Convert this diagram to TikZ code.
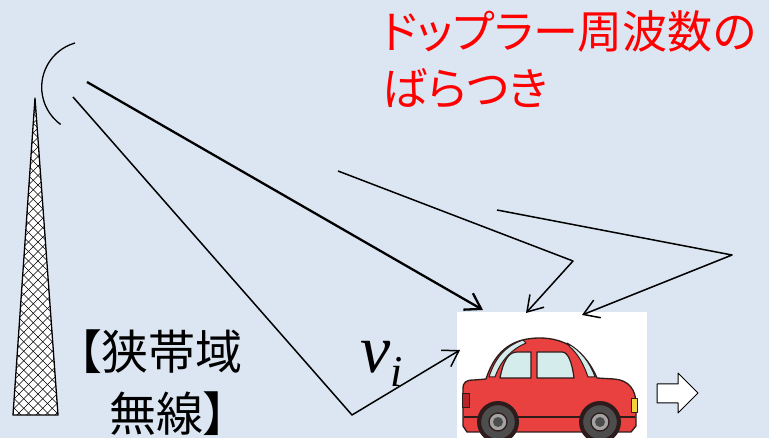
\documentclass[tikz,border=0pt]{standalone}
\usepackage{fontspec}
\newfontfamily\jafont[RawFeature=+palt]{Noto Sans CJK JP}
\newfontfamily\varfont{Liberation Serif}
\usetikzlibrary{arrows.meta}
\definecolor{bgblue}{HTML}{DCE6F2}
\definecolor{carred}{HTML}{E8413F}
\definecolor{carline}{HTML}{2E1B1B}
\definecolor{glass}{HTML}{D4ECEC}
\definecolor{tyre}{HTML}{4D4D4D}
\definecolor{hubgrey}{HTML}{A3A3A3}
\definecolor{tailred}{HTML}{B8242A}
\definecolor{lampyellow}{HTML}{F4D23C}

\begin{document}
\begin{tikzpicture}[x=1pt, y=-1pt, line join=round,
  ray/.style={line width=1.5pt},
  hit/.style={-{Straight Barb[length=15pt,width=19pt]}},
  outline/.style={draw=carline, line width=1.3pt}]
  \fill[bgblue] (0,0) rectangle (769,438);
  \useasboundingbox (0,0) rectangle (769,438);

  % mast with lattice
  \fill[white] (35,98) -- (58,415) -- (13,415) -- cycle;
  \begin{scope}
    \clip (35,98) -- (58,415) -- (13,415) -- cycle;
    \foreach \d in {-36,...,7}
      \draw[line width=0.55pt] (\d*9.5,90) -- ++(340,340);
    \foreach \d in {1,...,42}
      \draw[line width=0.55pt] (\d*9.5,90) -- ++(-340,340);
  \end{scope}
  \draw[line width=1.3pt] (35,98) -- (58,415) -- (13,415) -- cycle;
  \draw[line width=1.3pt] (75,43) arc[start angle=-106, end angle=-234, radius=46];

  % vehicle
  \node[fill=white, inner sep=0, minimum width=190pt, minimum height=126pt,
    anchor=north west] (car) at (457,312) {};
  \begin{scope}
    \clip (457,312) rectangle (647,438);
    \filldraw[fill=carred, outline]
      (467,432) -- (463,426) -- (463,389) .. controls (463,382) and (466,380) .. (474,380)
      -- (486,379) .. controls (496,348) and (515,338) .. (540,338)
      .. controls (566,338) and (586,352) .. (597,378)
      -- (614,379) .. controls (629,380) and (636,390) .. (636,404)
      -- (636,426) -- (631,432) -- cycle;
    \filldraw[fill=glass, outline, line width=1pt]
      (489,377) .. controls (496,355) and (508,345) .. (523,340)
      -- (526,343) .. controls (512,349) and (501,360) .. (495,377) -- cycle;
    \filldraw[fill=glass, outline, line width=1pt]
      (567,343) .. controls (580,350) and (590,362) .. (595,377)
      -- (588,377) .. controls (584,365) and (578,354) .. (570,347) -- cycle;
    \filldraw[fill=glass, outline, line width=1.2pt]
      (500,378) .. controls (503,362) and (508,352) .. (517,352) -- (531,352) -- (531,378) -- cycle;
    \filldraw[fill=glass, outline, line width=1.2pt]
      (537,352) -- (562,352) .. controls (568,352) and (572,362) .. (574,378) -- (537,378) -- cycle;
    \draw[carline, line width=1.2pt] (464,417) -- (635,417);
    \filldraw[fill=tailred, outline, line width=0.8pt] (462,393) rectangle (469,407);
    \filldraw[fill=lampyellow, outline, line width=0.8pt] (631,398) rectangle (637,412);
    \foreach \wx in {498,600} {
      \fill[carline] (\wx,422) circle (21);
      \filldraw[fill=tyre, outline] (\wx,422) circle (17.5);
      \filldraw[fill=hubgrey, outline] (\wx,422) circle (9);
      \fill[tyre] (\wx,422) circle (5);
    }
  \end{scope}
  \draw[fill=white, line width=1pt]
    (657,384) -- (678,384) -- (678,373) -- (698,393) -- (678,413) -- (678,403) -- (657,403) -- cycle;

  % paths of the radio waves
  \coordinate (dish) at (87,82);
  \coordinate (dishlow) at (73,97);
  \coordinate (ground) at (352,415);
  \coordinate (srcB) at (338,171);
  \coordinate (bounceB) at (573,261);
  \coordinate (srcC) at (497,210);
  \coordinate (bounceC) at (732,255);
  \coordinate (hitA) at (483,310);
  \coordinate (hitG) at (460,350);
  \coordinate (hitB) at (526,313);
  \coordinate (hitC) at (582,315);
  \draw[ray, line width=2.3pt, hit] (dish) -- (hitA);
  \draw[ray, hit] (dishlow) -- (ground) -- (hitG);
  \draw[ray, hit] (srcB) -- (bounceB) -- (hitB);
  \draw[ray, hit] (srcC) -- (bounceC) -- (hitC);

  \node[anchor=north west, inner sep=0, align=left, text=red,
    font=\jafont\fontsize{45}{57}\selectfont] (spread) at (382,10) {ドップラー周波数の\\ばらつき};
  \node[anchor=north, inner sep=0, align=center,
    font=\jafont\fontsize{47}{62}\selectfont] (band) at (160,330) {【狭帯域\\\hspace*{16pt}無線】};
  \node[anchor=base west, inner sep=0, font=\varfont\itshape\fontsize{68}{68}\selectfont] (vel) at (360,373)
    {v\raisebox{-0.2em}{\fontsize{44}{44}\selectfont i}};
\end{tikzpicture}
\end{document}
